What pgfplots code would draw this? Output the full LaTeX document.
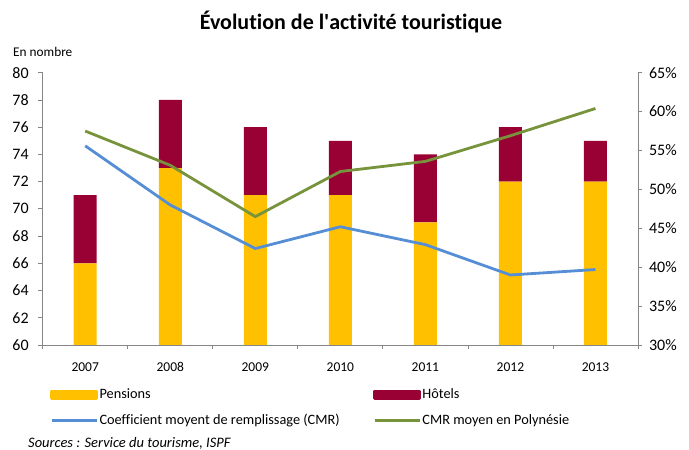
\documentclass[border=0pt]{standalone}
\usepackage{fontspec}
\setmainfont{Carlito}[Ligatures={NoCommon}]
\usepackage{pgfplots}
\pgfplotsset{compat=1.18}
\definecolor{pens}{HTML}{FFC000}
\definecolor{hotl}{HTML}{990033}
\definecolor{cmr}{HTML}{558ED5}
\definecolor{poly}{HTML}{77933C}
\definecolor{axgray}{HTML}{868686}
\pgfplotsset{
  base/.style={
    scale only axis, width=595.3pt, height=272.3pt,
    at={(0pt,0pt)}, anchor=south west,
    xmin=-0.5, xmax=6.5,
    axis line style={axgray, line width=0.8pt, -},
    tick style={axgray, line width=0.8pt},
    tick align=outside, major tick length=4.5pt,
    /pgf/number format/assume math mode=true,
  }
}
\begin{document}
\begin{tikzpicture}
\useasboundingbox (-42.7pt,-105pt) rectangle (646.3pt,345pt);
% bars, left axis in number
\begin{axis}[base,
  ybar stacked, bar width=23pt,
  ymin=60, ymax=80, ytick={60,62,...,80},
  axis y line*=left, axis x line*=bottom,
  xtick={0,...,6}, xticklabels={2007,2008,2009,2010,2011,2012,2013},
  major x tick style={draw=none},
  minor xtick={-0.5,0.5,...,6.5}, minor tick length=4.5pt,
  yticklabel style={font=\fontsize{16}{18}\selectfont, xshift=-6pt},
  xticklabel style={font=\fontsize{13.5}{15}\selectfont, yshift=-9pt,
    text height=9.5pt, text depth=0pt},
]
\addplot[fill=pens, draw=none] coordinates {(0,66)(1,73)(2,71)(3,71)(4,69)(5,72)(6,72)};
\addplot[fill=hotl, draw=none] coordinates {(0,5)(1,5)(2,5)(3,4)(4,5)(5,4)(6,3)};
\end{axis}
% lines, right axis in percent
\begin{axis}[base,
  ymin=30, ymax=65, ytick={30,35,...,65},
  axis y line*=right, axis x line=none,
  yticklabel={\pgfmathprintnumber{\tick}\%},
  yticklabel style={font=\fontsize{16}{18}\selectfont, xshift=3pt},
  legend columns=2,
  legend style={draw=none, fill=none, inner sep=0pt,
    at={(0.0123,-0.154)}, anchor=north west,
    font=\fontsize{14.3}{16}\selectfont,
    nodes={inner sep=1.5pt, text height=9.5pt, text depth=3pt},
    /tikz/every even column/.append style={column sep=32pt},
    row sep=10.5pt},
  legend cell align=left,
  every axis plot/.append style={line width=2.8pt, line join=round},
]
\addlegendimage{legend image code/.code={\fill[pens] (0pt,-3.8pt) rectangle (45pt,3.8pt);}}
\addlegendentry{Pensions}
\addlegendimage{legend image code/.code={\fill[hotl] (0pt,-3.8pt) rectangle (45pt,3.8pt);}}
\addlegendentry{Hôtels}
\addplot[cmr, mark=none, legend image code/.code={\draw[cmr, line width=2.8pt] (0pt,0pt) -- (45pt,0pt);}]
  coordinates {(0,55.6)(1,48.0)(2,42.4)(3,45.2)(4,42.9)(5,39.0)(6,39.7)};
\addlegendentry{Coefficient moyent de remplissage (CMR)}
\addplot[poly, mark=none, legend image code/.code={\draw[poly, line width=2.8pt] (0pt,0pt) -- (45pt,0pt);}]
  coordinates {(0,57.5)(1,53.1)(2,46.5)(3,52.3)(4,53.6)(5,56.9)(6,60.4)};
\addlegendentry{CMR moyen en Polynésie}
\end{axis}
\node[font=\bfseries\fontsize{22}{25}\selectfont] at (308.3pt,323pt) {Évolution de l\textquotesingle activité touristique};
\node[anchor=west, inner sep=0pt, font=\fontsize{13.3}{15}\selectfont] at (-29.7pt,293pt) {En nombre};
\node[anchor=west, inner sep=0pt, font=\itshape\fontsize{14.5}{16}\selectfont] at (-14.7pt,-98pt) {Sources : Service du tourisme, ISPF};
\end{tikzpicture}
\end{document}
